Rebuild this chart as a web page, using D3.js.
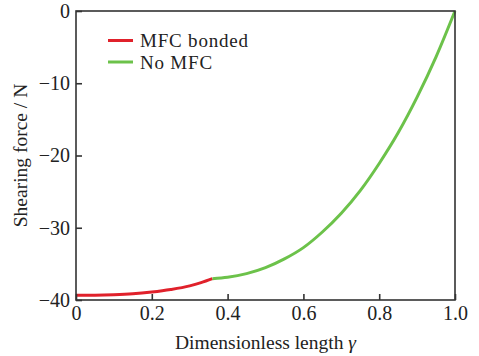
<!DOCTYPE html>
<html lang="en">
<head>
  <meta charset="UTF-8">
  <script src="https://d3js.org/d3.v7.min.js"></script>
  <style>
    body { margin: 0; background: #fff; }
    text { font-family: "Liberation Serif", "DejaVu Serif", serif; fill: #222; }
  </style>
</head>
<body>
<script>
  // curve (dimensionless length vs shearing force)
  const bondedX = [0, 0.05, 0.1, 0.15, 0.2, 0.25, 0.3, 0.33, 0.36];
  const bondedY = [-39.35, -39.34, -39.28, -39.15, -38.9, -38.55, -38.05, -37.6, -37.05];
  const freeX = [0.36, 0.4, 0.45, 0.5, 0.55, 0.6, 0.65, 0.7, 0.75, 0.8, 0.85, 0.9, 0.95, 1.0];
  const freeY = [-37.05, -36.85, -36.35, -35.52, -34.31, -32.75, -30.59, -27.99, -24.86, -21.1, -16.86, -11.93, -6.35, 0];
  const xTicks = [0, 0.2, 0.4, 0.6, 0.8, 1.0];
  const yTicks = [0, -10, -20, -30, -40];
  const seriesNames = ["MFC bonded", "No MFC"];
  const seriesColors = ["#e0212b", "#6cc24a"];

  const width = 479, height = 356;
  const margin = { top: 11, right: 24, bottom: 56, left: 76 };

  const svg = d3.select("body").append("svg")
    .attr("width", width)
    .attr("height", height);

  const x = d3.scaleLinear().domain([0, 1]).range([margin.left, width - margin.right]);
  const y = d3.scaleLinear().domain([-40, 0]).range([height - margin.bottom, margin.top]);

  const line = d3.line()
    .x(d => x(d[0]))
    .y(d => y(d[1]))
    .curve(d3.curveMonotoneX);

  const series = [
    d3.zip(bondedX, bondedY),
    d3.zip(freeX, freeY)
  ];

  // curves
  series.forEach((pts, i) => {
    svg.append("path")
      .datum(pts)
      .attr("d", line)
      .attr("fill", "none")
      .attr("stroke", seriesColors[i])
      .attr("stroke-width", 3);
  });

  // frame
  svg.append("rect")
    .attr("x", x(0))
    .attr("y", y(0))
    .attr("width", x(1) - x(0))
    .attr("height", y(-40) - y(0))
    .attr("fill", "none")
    .attr("stroke", "#333")
    .attr("stroke-width", 1.6);

  // axes, ticks pointing in
  const xAxis = svg.append("g")
    .attr("transform", `translate(0,${y(-40)})`)
    .call(d3.axisBottom(x).tickValues(xTicks)
      .tickFormat(d => d === 0 ? "0" : d3.format(".1f")(d))
      .tickSizeInner(-6).tickSizeOuter(0).tickPadding(6));

  const yAxis = svg.append("g")
    .attr("transform", `translate(${x(0)},0)`)
    .call(d3.axisLeft(y).tickValues(yTicks)
      .tickSizeInner(-6).tickSizeOuter(0).tickPadding(6));

  [xAxis, yAxis].forEach(g => {
    g.select(".domain").remove();
    g.selectAll("line").attr("stroke", "#333").attr("stroke-width", 1.6);
    g.selectAll("text").attr("font-size", 20).attr("fill", "#222")
      .attr("font-family", "Liberation Serif, serif");
  });

  // axis titles
  const xTitle = svg.append("text")
    .attr("x", (x(0) + x(1)) / 2 + 0)
    .attr("y", 349)
    .attr("text-anchor", "middle")
    .attr("font-size", 19.5);
  xTitle.append("tspan").text("Dimensionless length ");
  xTitle.append("tspan").attr("font-style", "italic").text("γ");

  svg.append("text")
    .attr("transform", `translate(27,${(y(0) + y(-40)) / 2}) rotate(-90)`)
    .attr("text-anchor", "middle")
    .attr("font-size", 19.5)
    .text("Shearing force / N");

  // legend
  const legend = svg.append("g");
  seriesNames.forEach((name, i) => {
    const ly = 40.5 + i * 21.5;
    legend.append("line")
      .attr("x1", 108).attr("x2", 133)
      .attr("y1", ly).attr("y2", ly)
      .attr("stroke", seriesColors[i])
      .attr("stroke-width", 3);
    legend.append("text")
      .attr("x", 140).attr("y", ly + 6.5)
      .attr("font-size", 19)
      .attr("letter-spacing", 0.8)
      .text(name);
  });
</script>
</body>
</html>
